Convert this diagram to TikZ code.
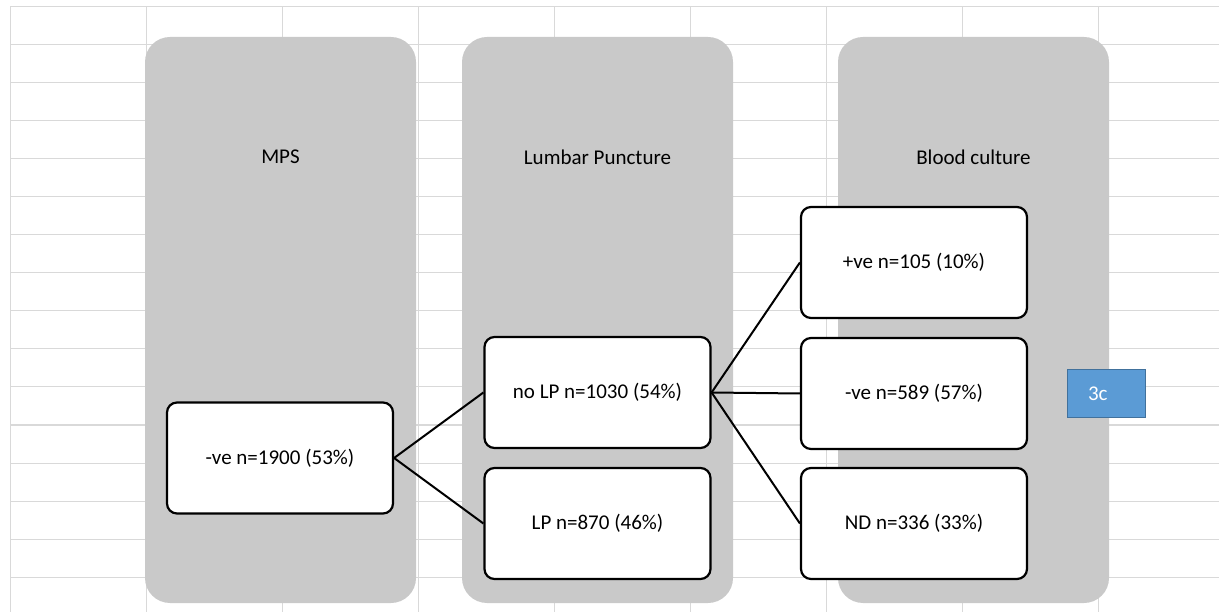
\documentclass[tikz,border=0pt]{standalone}
\usepackage{fontspec}
\setmainfont{Carlito}
\usetikzlibrary{calc}

\definecolor{gridgray}{HTML}{D9D9D9}
\definecolor{stagegray}{HTML}{C9C9C9}
\definecolor{tagblue}{HTML}{5B9BD5}
\definecolor{tagedge}{HTML}{41719C}

\begin{document}
\begin{tikzpicture}[x=1pt, y=-1pt,
		stage/.style={fill=stagegray, rounded corners=25pt, minimum width=271pt, minimum height=566pt, inner sep=0pt},
		stagelabel/.style={font=\fontsize{21}{24}\selectfont},
		result/.style={draw=black, line width=2.2pt, fill=white, rounded corners=10pt, minimum width=226pt, minimum height=111pt, font=\fontsize{21}{24}\selectfont},
		tag/.style={draw=tagedge, line width=1.4pt, fill=tagblue, text=white, minimum width=78pt, minimum height=48pt, font=\fontsize{21}{24}\selectfont},
		link/.style={line width=2pt}
	]
	\def\xMIN{10};
	\def\xMAX{1219};
	\def\yMIN{7};
	\def\yMAX{612};

	\useasboundingbox (0,0) rectangle (1219,612);

	% sheet grid
	\begin{scope}[gridgray, line width=1pt]
		\foreach \k in {0,...,15}
		{
			\draw (\xMIN,\yMIN+38*\k) -- (\xMAX,\yMIN+38*\k);
		}
		\foreach \k in {0,...,8}
		{
			\draw (\xMIN+136*\k,\yMIN) -- (\xMIN+136*\k,\yMAX);
		}
	\end{scope}

	% stages
	\begin{scope}
		\node [stage] (mps) at (280.5,320) {};
		\node [stage] (lumbar) at (597.5,320) {};
		\node [stage] (blood) at (973.5,320) {};

		\node [stagelabel] (mpslabel) at (280.5,157) {MPS};
		\node [stagelabel] (lumbarlabel) at (597.5,157) {Lumbar Puncture};
		\node [stagelabel] (bloodlabel) at (973.5,157) {Blood culture};
	\end{scope}

	% results
	\begin{scope}
		\node [result] (mpsneg) at (280,458) {-ve n=1900 (53\%)};
		\node [result] (nolp) at (597.5,392.5) {no LP n=1030 (54\%)};
		\node [result] (lp) at (597.5,523.5) {LP n=870 (46\%)};
		\node [result] (bcpos) at (914,262.5) {+ve n=105 (10\%)};
		\node [result] (bcneg) at (914,393.5) {-ve n=589 (57\%)};
		\node [result] (bcnd) at (914,523.5) {ND n=336 (33\%)};

		\node [tag, text width=37pt, align=left] (panel) at (1106.5,393.5) {3c};
	\end{scope}

	% links
	\begin{scope}[link]
		\draw (mpsneg.east) -- (nolp.west);
		\draw (mpsneg.east) -- (lp.west);
		\draw (nolp.east) -- (bcpos.west);
		\draw (nolp.east) -- (bcneg.west);
		\draw (nolp.east) -- (bcnd.west);
	\end{scope}
\end{tikzpicture}
\end{document}
